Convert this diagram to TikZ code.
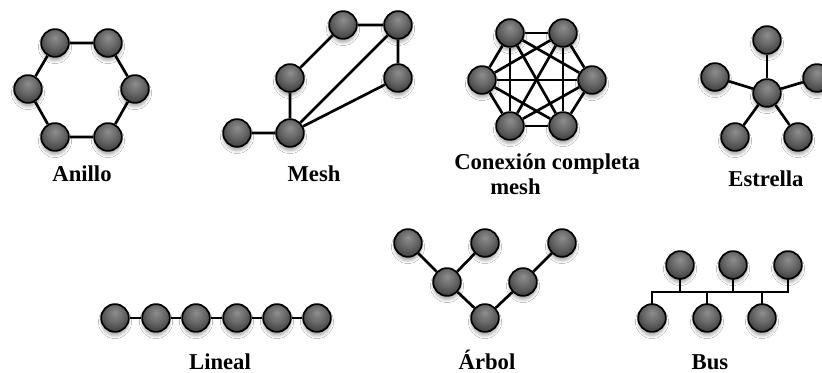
\documentclass[tikz,border=0pt]{standalone}
\usepackage{fontspec}
\setmainfont{Liberation Serif}
\usetikzlibrary{shadows.blur,backgrounds}

\definecolor{ballhi}{HTML}{8E8E8E}
\definecolor{ballmid}{HTML}{676767}
\definecolor{balllo}{HTML}{333333}
\pgfdeclareradialshading{nodeball}{\pgfpoint{0bp}{10bp}}{%
  color(0bp)=(ballhi); color(16bp)=(ballmid); color(34bp)=(balllo); color(60bp)=(balllo)}

\tikzset{
  ball/.style={circle, draw=black, line width=1.3pt, minimum size=20.8pt,
    inner sep=0pt, shading=nodeball,
    blur shadow={shadow xshift=0pt, shadow yshift=-3pt,
      shadow blur radius=2pt, shadow opacity=30}},
  link/.style={line width=2pt, black},
  lbl/.style={font=\bfseries\fontsize{17}{18.75}\selectfont, inner sep=0pt, anchor=base}
}

\begin{document}
\begin{tikzpicture}[x=0.75pt, y=-0.75pt]
\clip (0,0) rectangle (822,373);

% ---- Anillo (ring) ----
\node[ball] (r1) at (55,43) {};
\node[ball] (r2) at (108,43) {};
\node[ball] (r3) at (135,89) {};
\node[ball] (r4) at (108,137) {};
\node[ball] (r5) at (55,137) {};
\node[ball] (r6) at (28,89) {};
\node[lbl] (lring) at (82,182) {Anillo};

% ---- Mesh (partial) ----
\node[ball] (m1) at (343,25) {};
\node[ball] (m2) at (398,25) {};
\node[ball] (m3) at (290,78) {};
\node[ball] (m4) at (398,78) {};
\node[ball] (m5) at (237,133) {};
\node[ball] (m6) at (290,133) {};
\node[lbl] (lmesh) at (314,182) {Mesh};

% ---- Full mesh ----
\node[ball] (k1) at (510,33) {};
\node[ball] (k2) at (563,33) {};
\node[ball] (k3) at (592,80) {};
\node[ball] (k4) at (563,126) {};
\node[ball] (k5) at (510,126) {};
\node[ball] (k6) at (482,80) {};
\node[lbl, anchor=base west, align=left] (lfull) at (454,195)
  {Conexión completa\\\hspace*{27pt}mesh};

% ---- Estrella (star) ----
\node[ball] (s0) at (767,93) {};
\node[ball] (s1) at (767,40) {};
\node[ball] (s2) at (715,77) {};
\node[ball] (s3) at (817,78) {};
\node[ball] (s4) at (735,137) {};
\node[ball] (s5) at (798,137) {};
\node[lbl] (lstar) at (766,187) {Estrella};

% ---- Lineal (line) ----
\foreach \n/\x in {1/115,2/156,3/196,4/237,5/277,6/317}
  \node[ball] (l\n) at (\x,318) {};
\node[lbl] (lline) at (220,370) {Lineal};

% ---- Árbol (tree) ----
\node[ball] (t1) at (408,243) {};
\node[ball] (t2) at (485,243) {};
\node[ball] (t3) at (562,243) {};
\node[ball] (t4) at (447,282) {};
\node[ball] (t5) at (523,282) {};
\node[ball] (t6) at (485,318) {};
\node[lbl] (ltree) at (487,370) {Árbol};

% ---- Bus ----
\node[ball] (b1) at (680,265) {};
\node[ball] (b2) at (733,265) {};
\node[ball] (b3) at (788,265) {};
\node[ball] (b4) at (652,318) {};
\node[ball] (b5) at (707,318) {};
\node[ball] (b6) at (762,318) {};
\coordinate (bus) at (720,292);
\node[lbl] (lbus) at (710,370) {Bus};

% ---- white page and connectors, behind the nodes ----
\begin{scope}[on background layer]
  \fill[white] (0,0) rectangle (822,373);

  \draw[link] (r1) -- (r2) -- (r3) -- (r4) -- (r5) -- (r6) -- (r1);

  \draw[link] (m5) -- (m6) -- (m3) -- (m1) -- (m2) -- (m4);
  \draw[link] (m6) -- (m2);
  \draw[link] (m6) -- (m4);

  \foreach \i in {1,...,6}{
    \foreach \j in {1,...,6}{
      \ifnum\i<\j \draw[link] (k\i) -- (k\j);\fi
    }
  }

  \foreach \n in {1,...,5}{
    \pgfmathtruncatemacro{\m}{\n+1}
    \draw[link] (s0) -- (s\n);
    \draw[link] (l\n) -- (l\m);
  }

  \draw[link] (t1) -- (t4) -- (t6) -- (t5) -- (t3);
  \draw[link] (t2) -- (t4);

  \draw[link] (b4.center) -- (b4.center |- bus) -- (b3.center |- bus) -- (b3.center);
  \draw[link] (b1.center) -- (b1.center |- bus);
  \draw[link] (b2.center) -- (b2.center |- bus);
  \draw[link] (b5.center) -- (b5.center |- bus);
  \draw[link] (b6.center) -- (b6.center |- bus);
\end{scope}
\end{tikzpicture}
\end{document}
